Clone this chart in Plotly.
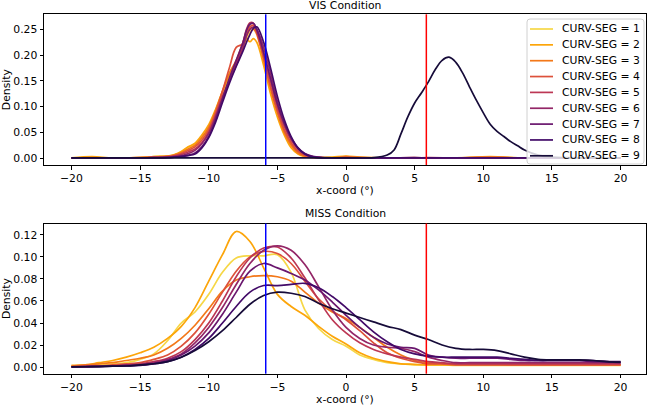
import plotly.graph_objects as go

# ---------------- data ----------------
SERIES_NAMES = [f"CURV-SEG = {i}" for i in range(1, 10)]
COLORS = ["#f6d746", "#fca50a", "#f37819", "#dd513a", "#bc3754",
          "#932667", "#6a176e", "#420a68", "#160b39"]

X_TICKS = [-20, -15, -10, -5, 0, 5, 10, 15, 20]
Y_TICKS_TOP = [0.0, 0.05, 0.10, 0.15, 0.20, 0.25]
Y_TICKS_BOT = [0.0, 0.02, 0.04, 0.06, 0.08, 0.10, 0.12]
VLINE_BLUE = -5.85
VLINE_RED = 5.85

# VIS condition: grid for segments 1-8
X_TOP_A = [-20, -18.5, -17, -15, -14, -13, -12.5, -12, -11.5, -11, -10.5, -10, -9.5, -9,
           -8.5, -8, -7.5, -7.25, -7, -6.75, -6.5, -6, -5.5, -5, -4.5, -4, -3.5, -3,
           -2.5, -2, -1, 0, 1, 3, 5, 6, 8, 10.5, 13, 16, 20]
VIS_1 = [0.0003, 0.001, 0.0005, 0.001, 0.003, 0.004, 0.006, 0.012, 0.021, 0.027, 0.040, 0.058, 0.090, 0.125,
         0.155, 0.180, 0.213, 0.232, 0.245, 0.250, 0.248, 0.205, 0.150, 0.095, 0.055, 0.028, 0.012, 0.005,
         0.002, 0.001, 0.001, 0.002, 0.001, 0.0005, 0.0005, 0.0005, 0.0005, 0.001, 0.0005, 0.0003, 0.0003]
VIS_2 = [0.0005, 0.003, 0.0005, 0.001, 0.003, 0.004, 0.007, 0.013, 0.022, 0.029, 0.045, 0.065, 0.095, 0.130,
         0.160, 0.185, 0.220, 0.232, 0.226, 0.232, 0.225, 0.180, 0.125, 0.080, 0.045, 0.020, 0.008, 0.003,
         0.001, 0.001, 0.002, 0.004, 0.002, 0.0005, 0.0005, 0.0005, 0.0005, 0.003, 0.0005, 0.0003, 0.0003]
VIS_3 = [0.0003, 0.001, 0.0005, 0.001, 0.002, 0.004, 0.006, 0.011, 0.018, 0.025, 0.040, 0.060, 0.092, 0.130,
         0.165, 0.190, 0.225, 0.245, 0.255, 0.252, 0.240, 0.190, 0.135, 0.088, 0.050, 0.025, 0.010, 0.004,
         0.002, 0.001, 0.0005, 0.003, 0.001, 0.0005, 0.0005, 0.0005, 0.0005, 0.002, 0.0005, 0.0003, 0.0003]
VIS_4 = [0.0003, 0.0005, 0.0005, 0.001, 0.002, 0.003, 0.005, 0.009, 0.015, 0.022, 0.035, 0.055, 0.088, 0.130,
         0.175, 0.215, 0.222, 0.238, 0.255, 0.258, 0.245, 0.195, 0.140, 0.092, 0.055, 0.030, 0.013, 0.005,
         0.002, 0.001, 0.0005, 0.001, 0.001, 0.0005, 0.001, 0.0005, 0.0005, 0.001, 0.0005, 0.0003, 0.0003]
VIS_5 = [0.0003, 0.0005, 0.0005, 0.0005, 0.001, 0.002, 0.004, 0.007, 0.012, 0.018, 0.030, 0.050, 0.082, 0.120,
         0.150, 0.185, 0.225, 0.250, 0.263, 0.262, 0.245, 0.200, 0.150, 0.100, 0.062, 0.035, 0.017, 0.007,
         0.003, 0.001, 0.0005, 0.001, 0.0005, 0.0005, 0.0005, 0.001, 0.0005, 0.0005, 0.0005, 0.0003, 0.0003]
VIS_6 = [0.0003, 0.0005, 0.0005, 0.0005, 0.001, 0.002, 0.003, 0.005, 0.009, 0.015, 0.028, 0.048, 0.080, 0.115,
         0.150, 0.180, 0.215, 0.238, 0.250, 0.255, 0.250, 0.215, 0.165, 0.110, 0.068, 0.038, 0.019, 0.008,
         0.003, 0.001, 0.0005, 0.0005, 0.0005, 0.0005, 0.0005, 0.0005, 0.0005, 0.0005, 0.0005, 0.0003, 0.0003]
VIS_7 = [0.0003, 0.0005, 0.0005, 0.0005, 0.001, 0.001, 0.002, 0.004, 0.006, 0.010, 0.022, 0.042, 0.075, 0.115,
         0.155, 0.190, 0.225, 0.248, 0.260, 0.262, 0.250, 0.205, 0.155, 0.105, 0.068, 0.040, 0.020, 0.009,
         0.004, 0.002, 0.0005, 0.0005, 0.0005, 0.0005, 0.001, 0.0005, 0.0005, 0.0005, 0.0005, 0.0003, 0.0003]
VIS_8 = [0.0003, 0.0005, 0.0005, 0.0005, 0.0005, 0.001, 0.002, 0.003, 0.005, 0.008, 0.020, 0.040, 0.070, 0.108,
         0.145, 0.178, 0.208, 0.225, 0.240, 0.252, 0.255, 0.225, 0.175, 0.120, 0.075, 0.042, 0.020, 0.008,
         0.003, 0.001, 0.0005, 0.0005, 0.0005, 0.0005, 0.0005, 0.0005, 0.0005, 0.0005, 0.0005, 0.0003, 0.0003]
# VIS condition: grid for segment 9
X_TOP_B = [-20, -10, 0, 2, 3, 3.5, 4, 4.5, 5, 5.5, 6, 6.5, 7, 7.5, 8, 8.5, 9, 9.5, 10,
           10.5, 11, 11.5, 12, 12.5, 13, 14, 15, 16, 20]
VIS_9 = [0.0005, 0.0005, 0.0005, 0.001, 0.006, 0.016, 0.047, 0.080, 0.107, 0.127, 0.148, 0.172, 0.190,
         0.196, 0.186, 0.165, 0.138, 0.112, 0.088, 0.066, 0.052, 0.042, 0.032, 0.024, 0.016, 0.006,
         0.002, 0.001, 0.0005]

# MISS condition
X_BOT = [-20, -19, -18, -17, -16, -15, -14, -13, -12, -11, -10, -9, -8, -7, -6, -5, -4, -3, -2, -1,
         0, 1, 2, 3, 4, 5, 6, 7, 8, 9, 10, 11, 12, 13, 14, 15, 16, 17, 18, 19, 20]
MISS_1 = [0.001, 0.0015, 0.002, 0.003, 0.004, 0.007, 0.012, 0.024, 0.040, 0.050, 0.066, 0.086, 0.099, 0.101,
          0.101, 0.102, 0.086, 0.052, 0.035, 0.025, 0.019, 0.011, 0.007, 0.004, 0.003, 0.002, 0.002, 0.002,
          0.0015, 0.0015, 0.0015, 0.0015, 0.0015, 0.0015, 0.0015, 0.0015, 0.0015, 0.0015, 0.0015, 0.0015, 0.0015]
MISS_2 = [0.0015, 0.002, 0.004, 0.006, 0.009, 0.013, 0.018, 0.026, 0.037, 0.054, 0.078, 0.102, 0.123, 0.114,
          0.090, 0.066, 0.055, 0.047, 0.037, 0.028, 0.021, 0.013, 0.008, 0.005, 0.003, 0.0025, 0.002, 0.002,
          0.002, 0.002, 0.002, 0.002, 0.002, 0.002, 0.002, 0.002, 0.002, 0.002, 0.002, 0.002, 0.002]
MISS_3 = [0.001, 0.002, 0.003, 0.004, 0.006, 0.008, 0.011, 0.017, 0.026, 0.038, 0.053, 0.069, 0.079, 0.082,
          0.083, 0.082, 0.078, 0.068, 0.058, 0.050, 0.044, 0.036, 0.027, 0.018, 0.011, 0.006, 0.004, 0.003,
          0.003, 0.003, 0.003, 0.003, 0.002, 0.002, 0.002, 0.002, 0.002, 0.002, 0.002, 0.002, 0.002]
MISS_4 = [0.0005, 0.001, 0.001, 0.002, 0.003, 0.004, 0.007, 0.011, 0.019, 0.031, 0.048, 0.068, 0.087, 0.100,
          0.105, 0.103, 0.094, 0.078, 0.062, 0.051, 0.043, 0.033, 0.022, 0.013, 0.008, 0.005, 0.003, 0.003,
          0.002, 0.002, 0.002, 0.002, 0.002, 0.002, 0.002, 0.002, 0.002, 0.002, 0.002, 0.002, 0.002]
MISS_5 = [0.0003, 0.0005, 0.001, 0.001, 0.002, 0.003, 0.005, 0.008, 0.014, 0.025, 0.040, 0.060, 0.082, 0.099,
          0.108, 0.109, 0.099, 0.081, 0.061, 0.043, 0.031, 0.022, 0.016, 0.012, 0.009, 0.007, 0.005, 0.004,
          0.003, 0.003, 0.003, 0.003, 0.003, 0.003, 0.003, 0.003, 0.003, 0.003, 0.003, 0.003, 0.003]
MISS_6 = [0.0003, 0.0005, 0.0008, 0.001, 0.0015, 0.002, 0.004, 0.007, 0.012, 0.022, 0.036, 0.054, 0.075, 0.094,
          0.106, 0.110, 0.106, 0.093, 0.073, 0.052, 0.036, 0.026, 0.020, 0.018, 0.017, 0.014, 0.009, 0.006,
          0.004, 0.004, 0.004, 0.004, 0.004, 0.004, 0.004, 0.004, 0.004, 0.004, 0.004, 0.004, 0.004]
MISS_7 = [0.0002, 0.0004, 0.0006, 0.001, 0.0015, 0.002, 0.003, 0.006, 0.011, 0.019, 0.031, 0.048, 0.068, 0.087,
          0.094, 0.090, 0.085, 0.079, 0.070, 0.059, 0.047, 0.036, 0.027, 0.021, 0.018, 0.017, 0.011, 0.009,
          0.008, 0.008, 0.008, 0.008, 0.007, 0.006, 0.006, 0.006, 0.006, 0.006, 0.005, 0.005, 0.004]
MISS_8 = [0.0002, 0.0003, 0.0005, 0.0008, 0.001, 0.0015, 0.003, 0.005, 0.009, 0.016, 0.026, 0.040, 0.055, 0.068,
          0.074, 0.074, 0.075, 0.076, 0.072, 0.064, 0.054, 0.043, 0.032, 0.023, 0.016, 0.012, 0.010, 0.009,
          0.009, 0.009, 0.009, 0.009, 0.008, 0.007, 0.006, 0.006, 0.006, 0.006, 0.006, 0.005, 0.005]
MISS_9 = [0.0002, 0.0003, 0.0005, 0.0008, 0.001, 0.002, 0.003, 0.005, 0.009, 0.015, 0.023, 0.033, 0.045, 0.057,
          0.065, 0.068, 0.067, 0.064, 0.058, 0.053, 0.049, 0.045, 0.041, 0.037, 0.034, 0.029, 0.025, 0.020,
          0.017, 0.016, 0.016, 0.015, 0.012, 0.009, 0.007, 0.0065, 0.0065, 0.0065, 0.006, 0.005, 0.0045]

VIS = [(X_TOP_A, VIS_1), (X_TOP_A, VIS_2), (X_TOP_A, VIS_3), (X_TOP_A, VIS_4), (X_TOP_A, VIS_5),
       (X_TOP_A, VIS_6), (X_TOP_A, VIS_7), (X_TOP_A, VIS_8), (X_TOP_B, VIS_9)]
MISS = [MISS_1, MISS_2, MISS_3, MISS_4, MISS_5, MISS_6, MISS_7, MISS_8, MISS_9]

# ---------------- layout constants ----------------
W, H = 650, 407
ML, MR, MT, MB = 44, 4, 14, 31
PW, PH = W - ML - MR, H - MT - MB
FONT = "DejaVu Sans"
FS = 10.8
LW = 1.7


def fx(px):
    return (px - ML) / PW


def fy(py):
    return (H - MB - py) / PH


TOP_DOM = [fy(165), fy(14.3)]
BOT_DOM = [fy(373.7), fy(223.5)]

fig = go.Figure()
for i, (xs, ys) in enumerate(VIS):
    fig.add_trace(go.Scatter(x=xs, y=ys, mode="lines", name=SERIES_NAMES[i],
                             line=dict(color=COLORS[i], width=LW, shape="spline", smoothing=1.0),
                             xaxis="x", yaxis="y", showlegend=False, hoverinfo="skip"))
for i, ys in enumerate(MISS):
    fig.add_trace(go.Scatter(x=X_BOT, y=ys, mode="lines", name=SERIES_NAMES[i],
                             line=dict(color=COLORS[i], width=LW, shape="spline", smoothing=1.0),
                             xaxis="x2", yaxis="y2", showlegend=False, hoverinfo="skip"))

axis_common = dict(showline=True, mirror=True, linecolor="black", linewidth=1,
                   ticks="outside", ticklen=3.5, tickwidth=1, tickcolor="black",
                   showgrid=False, zeroline=False,
                   tickfont=dict(family=FONT, size=FS, color="black"))

shapes = []
for xr, yr in (("x", "y"), ("x2", "y2")):
    shapes.append(dict(type="line", xref=xr, yref=yr + " domain", x0=VLINE_BLUE, x1=VLINE_BLUE,
                       y0=0, y1=1, line=dict(color="#0000ff", width=1.5)))
    shapes.append(dict(type="line", xref=xr, yref=yr + " domain", x0=VLINE_RED, x1=VLINE_RED,
                       y0=0, y1=1, line=dict(color="#ff0000", width=1.5)))

annotations = []
# titles
annotations.append(dict(text="VIS Condition", xref="paper", yref="paper", x=0.5, y=TOP_DOM[1],
                        xanchor="center", yanchor="bottom", yshift=0, showarrow=False,
                        font=dict(family=FONT, size=FS, color="black")))
annotations.append(dict(text="MISS Condition", xref="paper", yref="paper", x=0.5, y=BOT_DOM[1],
                        xanchor="center", yanchor="bottom", yshift=2, showarrow=False,
                        font=dict(family=FONT, size=FS, color="black")))
# axis labels
for dom, ys in ((TOP_DOM, -18), (BOT_DOM, -18.5)):
    annotations.append(dict(text="x-coord (°)", xref="paper", yref="paper", x=0.5, y=dom[0],
                            xanchor="center", yanchor="top", yshift=ys, borderpad=0, showarrow=False,
                            font=dict(family=FONT, size=FS, color="black")))
    annotations.append(dict(text="Density", xref="paper", yref="paper", x=fx(6.5),
                            y=(dom[0] + dom[1]) / 2, xanchor="center", yanchor="middle",
                            textangle=-90, showarrow=False,
                            font=dict(family=FONT, size=FS, color="black")))

# legend (drawn in the upper panel, upper right)
LX0, LX1, LY0, LY1 = 527, 644, 19, 164
r = 3
path = (f"M {fx(LX0 + r)},{fy(LY0)} L {fx(LX1 - r)},{fy(LY0)} Q {fx(LX1)},{fy(LY0)} {fx(LX1)},{fy(LY0 + r)} "
        f"L {fx(LX1)},{fy(LY1 - r)} Q {fx(LX1)},{fy(LY1)} {fx(LX1 - r)},{fy(LY1)} "
        f"L {fx(LX0 + r)},{fy(LY1)} Q {fx(LX0)},{fy(LY1)} {fx(LX0)},{fy(LY1 - r)} "
        f"L {fx(LX0)},{fy(LY0 + r)} Q {fx(LX0)},{fy(LY0)} {fx(LX0 + r)},{fy(LY0)} Z")
shapes.append(dict(type="path", xref="paper", yref="paper", path=path,
                   fillcolor="rgba(255,255,255,0.8)", line=dict(color="#d0d0d0", width=1)))
for i, name in enumerate(SERIES_NAMES):
    cy = 29 + 15.85 * i
    shapes.append(dict(type="line", xref="paper", yref="paper", x0=fx(530), x1=fx(553),
                       y0=fy(cy), y1=fy(cy), line=dict(color=COLORS[i], width=LW)))
    annotations.append(dict(text=name, xref="paper", yref="paper", x=fx(560), y=fy(cy),
                            xanchor="left", yanchor="middle", showarrow=False,
                            font=dict(family=FONT, size=FS, color="black")))

fig.update_layout(
    width=W, height=H,
    margin=dict(l=ML, r=MR, t=MT, b=MB, pad=0),
    paper_bgcolor="white", plot_bgcolor="white",
    showlegend=False,
    font=dict(family=FONT, size=FS, color="black"),
    xaxis=dict(domain=[0, 1], anchor="y", range=[-22, 21.85], tickvals=X_TICKS, **axis_common),
    yaxis=dict(domain=TOP_DOM, anchor="x", range=[-0.0133, 0.2793], tickvals=Y_TICKS_TOP,
               tickformat=".2f", **axis_common),
    xaxis2=dict(domain=[0, 1], anchor="y2", range=[-22, 21.85], tickvals=X_TICKS, **axis_common),
    yaxis2=dict(domain=BOT_DOM, anchor="x2", range=[-0.006, 0.1303], tickvals=Y_TICKS_BOT,
                tickformat=".2f", **axis_common),
    shapes=shapes,
    annotations=annotations,
)

fig.write_html("out.html",
               config={"displayModeBar": False},
               post_script="document.body.style.margin='0';document.body.style.overflow='hidden';")
